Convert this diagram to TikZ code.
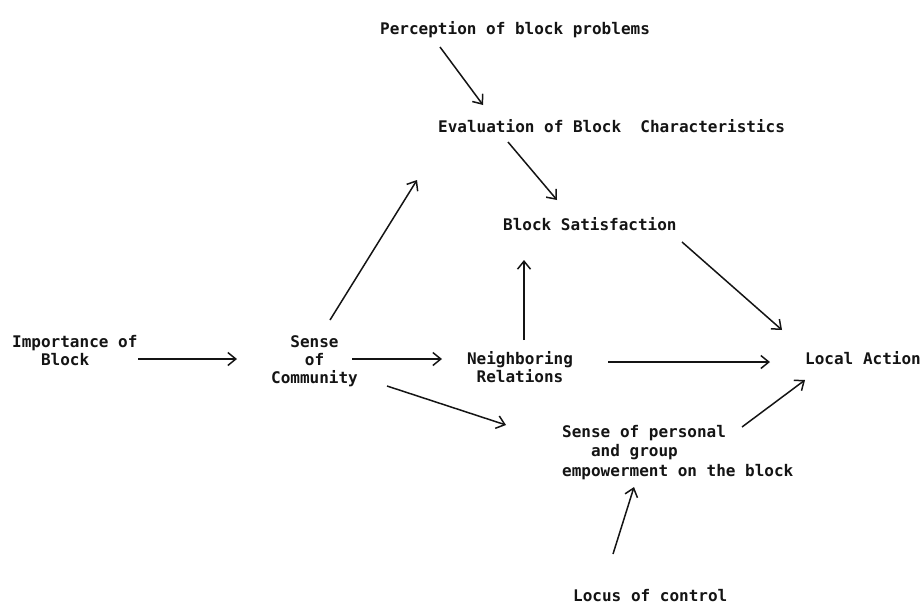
\documentclass[tikz,border=0pt]{standalone}
\usepackage{fontspec}
\usepackage{tikz}
\usetikzlibrary{arrows.meta,positioning}
\newfontfamily\tyfont[UprightFont={* Bold}]{DejaVu Sans Mono}
\definecolor{InkBlack}{RGB}{20,20,20}

\begin{document}
\begin{tikzpicture}[x=1pt,y=-1pt,>={Straight Barb[length=8pt,width=13pt]},
    concept/.style={inner sep=0pt,text=InkBlack,
      font=\tyfont\fontsize{16}{18}\selectfont},
    link/.style={->,line width=1.5pt,InkBlack}]
  \useasboundingbox (0,0) rectangle (923,606);
  % factors
  \node[concept,anchor=base west] (perc) at (380,34) {Perception of block problems};
  \node[concept,anchor=base west] (eval) at (438,132) {Evaluation of Block~~Characteristics};
  \node[concept,anchor=base west] (satis) at (503,230) {Block Satisfaction};
  \node[concept,anchor=base west,align=left] (import) at (12,365)
    {Importance of\\\phantom{Imp}Block};
  \node[concept,anchor=base,align=center] (commun) at (314.5,383)
    {Sense\\of\\Community};
  \node[concept,anchor=base,align=center] (neigh) at (520,382)
    {Neighboring\\Relations};
  \node[concept,anchor=base west] (action) at (805,364) {Local Action};
  \node[concept,anchor=base west,align=left,
    font=\tyfont\fontsize{16}{19.5}\selectfont] (empower) at (562,476)
    {Sense of personal\\\phantom{Sen}and group\\empowerment on the block};
  \node[concept,anchor=base west] (locus) at (573,601) {Locus of control};
  % paths
  \draw[link] ([shift={(60,13)}]perc.base west) -- ([shift={(45,-27)}]eval.base west);
  \draw[link] ([shift={(70,10)}]eval.base west) -- ([shift={(54,-30)}]satis.base west);
  \draw[link] ([shift={(15.5,-63)}]commun.base) -- ([shift={(-21,48)}]eval.base west);
  \draw[link] ([shift={(4,-42)}]neigh.base) -- ([shift={(21,30)}]satis.base west);
  \draw[link] ([shift={(179,12)}]satis.base west) -- ([shift={(-23,-34)}]action.base west);
  \draw[link] ([shift={(126,-6)}]import.base west) -- ([shift={(-77.5,-24)}]commun.base);
  \draw[link] ([shift={(37.5,-24)}]commun.base) -- ([shift={(-78,-23)}]neigh.base);
  \draw[link] ([shift={(72.5,3)}]commun.base) -- ([shift={(-56,-51)}]empower.base west);
  \draw[link] ([shift={(88,-20)}]neigh.base) -- ([shift={(-35,-2)}]action.base west);
  \draw[link] ([shift={(180,-49)}]empower.base west) -- ([shift={(0,16)}]action.base west);
  \draw[link] ([shift={(40,-47)}]locus.base west) -- ([shift={(72,11)}]empower.base west);
\end{tikzpicture}
\end{document}
